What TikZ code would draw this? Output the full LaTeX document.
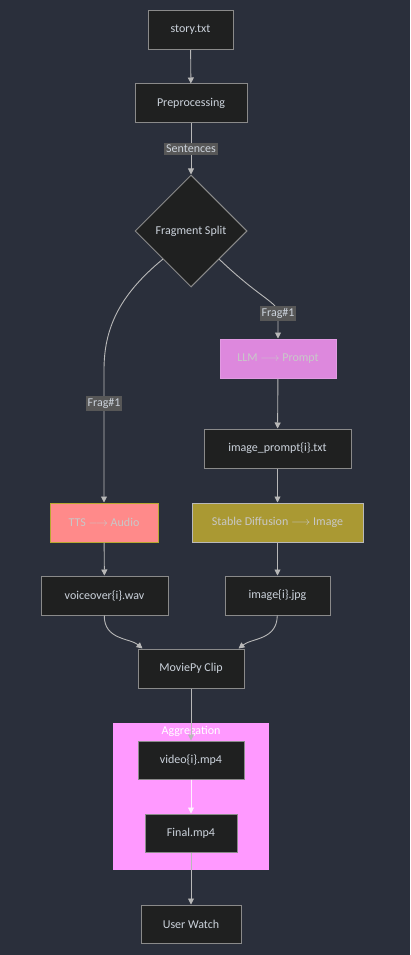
\documentclass[tikz,border=0pt]{standalone}
\usepackage{fontspec}
\setmainfont{Carlito}
\usetikzlibrary{positioning}
\usetikzlibrary{shapes.geometric}
\usetikzlibrary{arrows.meta}

\definecolor{bgcol}{HTML}{2A2F3B}
\definecolor{boxfill}{HTML}{1F2020}
\definecolor{boxline}{HTML}{8A8A8A}
\definecolor{boxtext}{HTML}{CCD3DC}
\definecolor{edgecol}{HTML}{B8B8B8}
\definecolor{lblfill}{HTML}{575757}
\definecolor{llmfill}{HTML}{DD88DD}
\definecolor{ttsfill}{HTML}{FF8A8A}
\definecolor{ttsline}{HTML}{B8A830}
\definecolor{sdfill}{HTML}{AA9933}
\definecolor{aggfill}{HTML}{FF99FF}
\definecolor{paletext}{HTML}{C8C8C8}

\tikzset{
	box/.style={draw=boxline,fill=boxfill,text=boxtext,line width=1pt,minimum height=39pt,inner sep=0pt,font=\fontsize{12}{14}\selectfont},
	lbl/.style={fill=lblfill,text=boxtext,inner sep=2pt,font=\fontsize{12}{14}\selectfont},
	edge/.style={draw=edgecol,line width=0.9pt,-{Triangle[length=6pt,width=6pt]}}
}

\begin{document}
\begin{tikzpicture}[x=1pt,y=-1pt]
	\fill[bgcol] (0,0) rectangle (410,955);							% фон
	\useasboundingbox (0,0) rectangle (410,955);
	\fill[aggfill] (113,723) rectangle (269,870);						% кластер
	\node[text=white,font=\fontsize{12}{14}\selectfont] (agg) at (191,731) {Aggregation};
	% узлы
	\node[box,minimum width=85pt] (story) at (190.5,30) {story.txt};
	\node[box,minimum width=112pt] (pre) at (191,103.5) {Preprocessing};
	\node[box,diamond,minimum width=112pt,minimum height=112pt,aspect=1] (split) at (191,231) {Fragment Split};
	\node[box,fill=llmfill,draw=llmfill!85!white,text=paletext,minimum width=116pt] (llm) at (278,358.5) {LLM $\longrightarrow$ Prompt};
	\node[box,minimum width=147pt] (prompt) at (277.5,448.5) {image\_prompt\{i\}.txt};
	\node[box,fill=ttsfill,draw=ttsline,text=paletext,minimum width=108pt] (tts) at (104,522.5) {TTS $\longrightarrow$ Audio};
	\node[box,fill=sdfill,draw=boxline!60!white,text=paletext,minimum width=171pt] (sd) at (277.5,522.5) {Stable Diffusion $\longrightarrow$ Image};
	\node[box,minimum width=127pt] (voice) at (104.5,595.5) {voiceover\{i\}.wav};
	\node[box,minimum width=105pt] (img) at (277.5,595.5) {image\{i\}.jpg};
	\node[box,minimum width=106pt] (movie) at (191,668.5) {MoviePy Clip};
	\node[box,minimum width=106pt,minimum height=38pt] (video) at (191,760) {video\{i\}.mp4};
	\node[box,minimum width=92pt,minimum height=38pt] (final) at (191,833) {Final.mp4};
	\node[box,minimum width=100pt,minimum height=38pt] (watch) at (191,924) {User Watch};
	% связи
	\draw[edge] (story) -- (pre);
	\draw[edge] (pre) -- node[lbl] {Sentences} (split);
	\draw[edge] (split.south west) .. controls (118,296) and (104,330) .. (104,370)
		-- (104,403.5) node[lbl] {Frag\#1} -- (tts);
	\draw[edge] (split.south east) .. controls (262,300) and (278,302) .. (278,313.5)
		node[lbl] {Frag\#1} -- (llm);
	\draw[edge] (llm) -- (prompt);
	\draw[edge] (prompt) -- (sd);
	\draw[edge] (tts) -- (voice);
	\draw[edge] (sd) -- (img);
	\draw[edge] (voice) .. controls (104,640) and (130,638) .. ([xshift=5pt]movie.north west);
	\draw[edge] (img) .. controls (277,640) and (252,638) .. ([xshift=-6pt]movie.north east);
	\draw[edge] (movie) -- (video);
	\draw[edge,draw=white!85!aggfill] (video) -- (final);
	\draw[edge] (final) -- (watch);
\end{tikzpicture}
\end{document}
